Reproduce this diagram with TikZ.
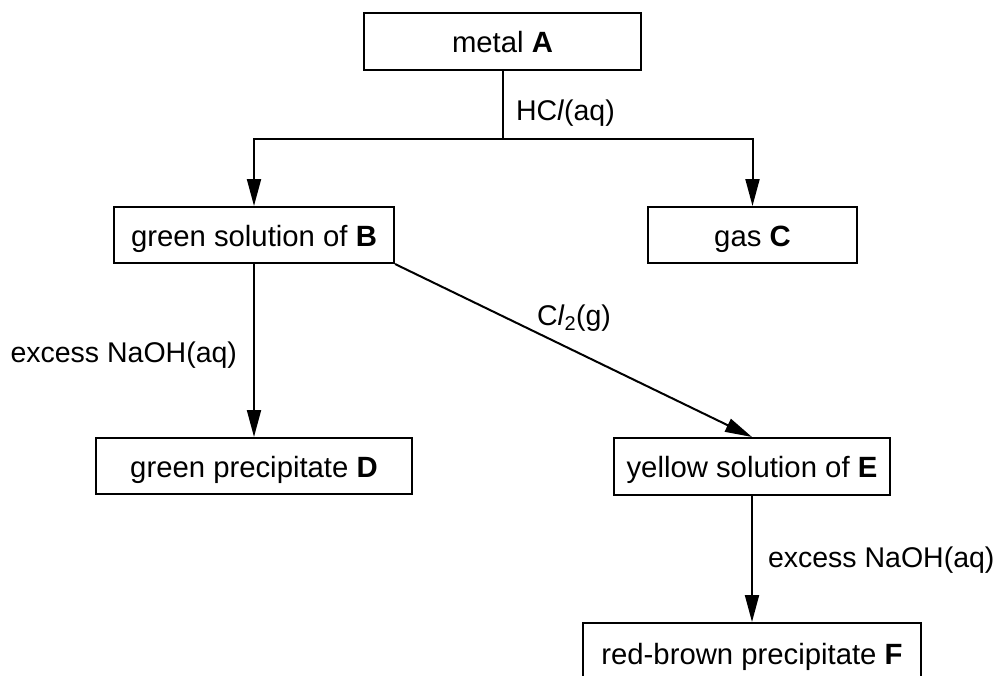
\documentclass[tikz,border=0pt]{standalone}
\usepackage{fontspec}
\setmainfont{Liberation Sans}
\usetikzlibrary{arrows.meta}

\begin{document}
\begin{tikzpicture}[
    x=1pt, y=-1pt,
    line width=2pt,
    >={Triangle[length=27pt,width=14pt]},
    every node/.style={font=\fontsize{29.3}{35}\selectfont},
    % Stile per le scatole delle sostanze
    box/.style={draw, inner sep=0pt, text height=24pt, text depth=2pt},
    % Stile per i reagenti sulle frecce
    reag/.style={inner sep=0pt, font=\fontsize{28.5}{34}\selectfont}
]
\useasboundingbox (0,0) rectangle (1000,675);
\clip (0,0) rectangle (1000,675);

% --- SOSTANZE ---
\node[box, minimum width=277pt, minimum height=57pt] (A) at (502.5,41.5) {metal \textbf{A}};
\node[box, minimum width=280pt, minimum height=56pt] (B) at (254,235) {green solution of \textbf{B}};
\node[box, minimum width=209pt, minimum height=56pt] (C) at (752.5,235) {gas \textbf{C}};
\node[box, minimum width=316pt, minimum height=56pt] (D) at (254,466) {green precipitate \textbf{D}};
\node[box, minimum width=276pt, minimum height=57pt] (E) at (752,466.5) {yellow solution of \textbf{E}};
\node[box, minimum width=338pt, minimum height=60pt] (F) at (752,653) {red-brown precipitate \textbf{F}};

% --- FRECCE ---
\coordinate (fork) at (502.5,139);
\draw (A) -- (fork);
\draw[->] (fork) -| (B.north);
\draw[->] (fork) -| (C.north);
\draw[->] (B) -- (D);
\draw[->] (B.south east) -- (E.north);
\draw[->] (E) -- (F);

% --- REAGENTI ---
\node[reag, anchor=base west] (hcl) at (515,120) {HC\textit{l}(aq)};
\node[reag, anchor=base west] (cl2) at (536,325) {C\textit{l}\textsubscript{2}(g)};
\node[reag, anchor=base east] (naoh1) at (238,362) {excess NaOH(aq)};
\node[reag, anchor=base west] (naoh2) at (767,567) {excess NaOH(aq)};

\end{tikzpicture}
\end{document}
